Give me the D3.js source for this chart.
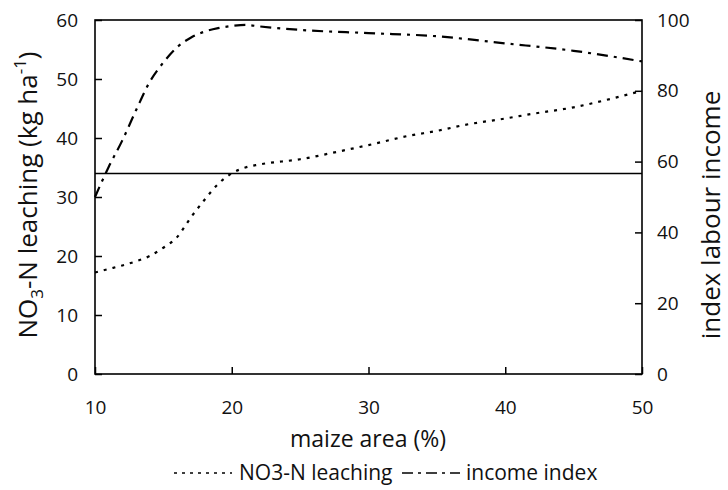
<!DOCTYPE html>
<html><head><meta charset="utf-8">
<script src="https://cdn.jsdelivr.net/npm/d3@7"></script>
<style>body{margin:0;background:#fff}svg text{fill:#111}</style>
</head><body><svg id="c" width="728" height="490"></svg>
<script>
const maizeArea = [10,11,12,13,14,15,16,17,18,19,20,21,22,25,28,30,33,35,37,40,42,45,48,50];
const leaching  = [17.2,17.8,18.4,19.1,20,21.4,23.2,26.5,29.5,32.2,34,35,35.5,36.4,37.8,38.8,40.4,41.2,42.2,43.3,44.1,45.2,46.8,48];
const incomeX   = [10,11,12,13,14,15,16,17,18,19,20,21,22,25,30,35,40,45,50];
const income    = [50,58.5,66,74.5,82.5,88,92.3,95,96.7,97.7,98.3,98.6,98.2,97.2,96.3,95.4,93.4,91.3,88.3];
const threshold = 34;
const xTicks = [10,20,30,40,50];
const yLeftTicks = [0,10,20,30,40,50,60];
const yRightTicks = [0,20,40,60,80,100];

const svg = d3.select('#c');
const L=95,R=642,T=20,B=374;
const x = d3.scaleLinear().domain([10,50]).range([L,R]);
const yL = d3.scaleLinear().domain([0,60]).range([B,T]);
const yR = d3.scaleLinear().domain([0,100]).range([B,T]);
const font = "'Open Sans', sans-serif";

svg.append('rect').attr('x',L).attr('y',T).attr('width',R-L).attr('height',B-T)
  .attr('fill','none').attr('stroke','#000').attr('stroke-width',1.6);

const ax = (g)=>{g.select('.domain').remove(); g.selectAll('line').attr('stroke','#000').attr('stroke-width',1.5);
  g.selectAll('text').attr('font-family',font).attr('font-size',19).attr('fill','#111');};

svg.append('g').attr('transform',`translate(0,${B})`)
  .call(d3.axisTop(x).tickValues(xTicks).tickSize(7).tickFormat(d3.format('d'))).call(ax)
  .call(g=>g.selectAll('text').attr('y',null).attr('dy',null).attr('transform','translate(0,40)'));
svg.append('g').attr('transform',`translate(${L},0)`)
  .call(d3.axisRight(yL).tickValues(yLeftTicks).tickSize(7)).call(ax)
  .call(g=>g.selectAll('text').attr('x',-17).attr('text-anchor','end'));
svg.append('g').attr('transform',`translate(${R},0)`)
  .call(d3.axisLeft(yR).tickValues(yRightTicks).tickSize(7)).call(ax)
  .call(g=>g.selectAll('text').attr('x',15).attr('text-anchor','start'));

svg.append('line').attr('x1',L).attr('x2',R).attr('y1',yL(threshold)).attr('y2',yL(threshold))
  .attr('stroke','#000').attr('stroke-width',1.5);

const lineL = d3.line().x((d,i)=>x(maizeArea[i])).y(d=>yL(d)).curve(d3.curveMonotoneX);
const lineR = d3.line().x((d,i)=>x(incomeX[i])).y(d=>yR(d)).curve(d3.curveMonotoneX);
svg.append('path').attr('d',lineL(leaching)).attr('fill','none').attr('stroke','#000')
  .attr('stroke-width',2.2).attr('stroke-dasharray','3,6');
svg.append('path').attr('d',lineR(income)).attr('fill','none').attr('stroke','#000')
  .attr('stroke-width',2.2).attr('stroke-dasharray','11,6,3,6');

const yl = svg.append('text').attr('transform','translate(37,195) rotate(-90)').attr('text-anchor','middle')
  .attr('font-family',font).attr('font-size',26);
yl.append('tspan').text('NO');
yl.append('tspan').attr('font-size',17).attr('dy',6).text('3');
yl.append('tspan').attr('dy',-6).text('-N leaching (kg ha');
yl.append('tspan').attr('font-size',17).attr('dy',-11).text('-1');
yl.append('tspan').attr('dy',11).text(')');

svg.append('text').attr('transform','translate(720,215) rotate(-90)').attr('text-anchor','middle')
  .attr('font-family',font).attr('font-size',26).text('index labour income');

svg.append('text').attr('x',368).attr('y',447).attr('text-anchor','middle')
  .attr('font-family',font).attr('font-size',23).text('maize area (%)');

const lg = svg.append('g').attr('font-family',font).attr('font-size',21);
lg.append('line').attr('x1',174).attr('x2',232).attr('y1',473).attr('y2',473).attr('stroke','#000').attr('stroke-width',1.6).attr('stroke-dasharray','3,5');
lg.append('text').attr('x',239).attr('y',480).text('NO3-N leaching');
lg.append('line').attr('x1',402).attr('x2',460).attr('y1',473).attr('y2',473).attr('stroke','#000').attr('stroke-width',1.6).attr('stroke-dasharray','11,5,3,5');
lg.append('text').attr('x',466).attr('y',480).text('income index');
</script></body></html>
